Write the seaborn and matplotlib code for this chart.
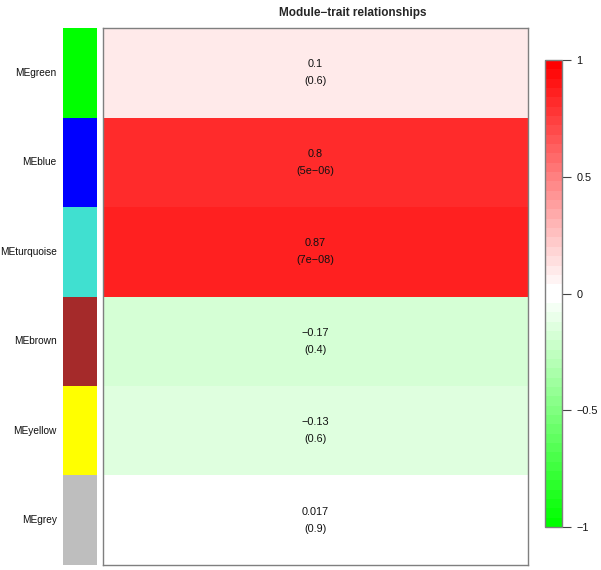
import numpy as np
import pandas as pd
import seaborn as sns
import matplotlib.pyplot as plt
from matplotlib.colors import ListedColormap

# Module eigengenes vs trait
modules = ["MEgreen", "MEblue", "MEturquoise", "MEbrown", "MEyellow", "MEgrey"]
module_colors = ["#00FF00", "#0000FF", "#40E0D0", "#A52A2A", "#FFFF00", "#BEBEBE"]
cor_values = [0.1, 0.8, 0.87, -0.17, -0.13, 0.017]
cor_labels = ["0.1", "0.8", "0.87", "\u22120.17", "\u22120.13", "0.017"]
p_labels = ["0.6", "5e\u221206", "7e\u221208", "0.4", "0.6", "0.9"]
cbar_ticks = [-1, -0.5, 0, 0.5, 1]
cbar_ticklabels = ["\u22121", "\u22120.5", "0", "0.5", "1"]

sns.set_theme(style="white")
plt.rcParams["font.family"] = ["Liberation Sans", "DejaVu Sans"]

df = pd.DataFrame({"trait": cor_values}, index=modules)
annot = np.array([[f"{c}\n({p})"] for c, p in zip(cor_labels, p_labels)])

# green-white-red palette in 50 steps (25 per half, white in the middle two)
half = np.linspace(0, 1, 25)
cols = [(1 - s, 1.0, 1 - s) for s in half[::-1]] + [(1.0, 1 - s, 1 - s) for s in half]
cmap = ListedColormap(cols)

fig = plt.figure(figsize=(6.01, 5.70), dpi=100)
ax = fig.add_axes([0.1714, 0.0088, 0.707, 0.942])
ax_mod = fig.add_axes([0.1048, 0.0088, 0.0566, 0.942])
cax = fig.add_axes([0.9068, 0.0754, 0.0283, 0.8193])

sns.heatmap(df, ax=ax, cmap=cmap, vmin=-1, vmax=1, annot=annot, fmt="",
            annot_kws={"fontsize": 7.8, "color": "#111111", "linespacing": 1.9},
            cbar=True, cbar_ax=cax, xticklabels=False, yticklabels=False)
for s in ax.spines.values():
    s.set_visible(True)
    s.set_color("#7f7f7f")
    s.set_linewidth(1)
ax.set_ylabel("")
ax.tick_params(length=0)

# module colour strip
mod_df = pd.DataFrame({"m": np.arange(len(modules))}, index=modules)
sns.heatmap(mod_df, ax=ax_mod, cmap=ListedColormap(module_colors), cbar=False,
            xticklabels=False, yticklabels=True)
ax_mod.set_ylabel("")
ax_mod.tick_params(axis="y", length=0, pad=4.5, labelsize=7.3, labelcolor="#111111")
for lab in ax_mod.get_yticklabels():
    lab.set_rotation(0)

cb = ax.collections[0].colorbar
cb.set_ticks(cbar_ticks)
cb.set_ticklabels(cbar_ticklabels)
cb.outline.set_edgecolor("#7f7f7f")
cb.outline.set_linewidth(1)
cax.tick_params(labelsize=7.8, length=6.5, width=0.8, color="#444444",
                labelcolor="#111111", pad=4)

fig.text(0.587, 0.978, "Module\u2212trait relationships", ha="center", va="center",
         fontsize=8.5, fontweight="bold")

fig.savefig("out.png", dpi=100)
